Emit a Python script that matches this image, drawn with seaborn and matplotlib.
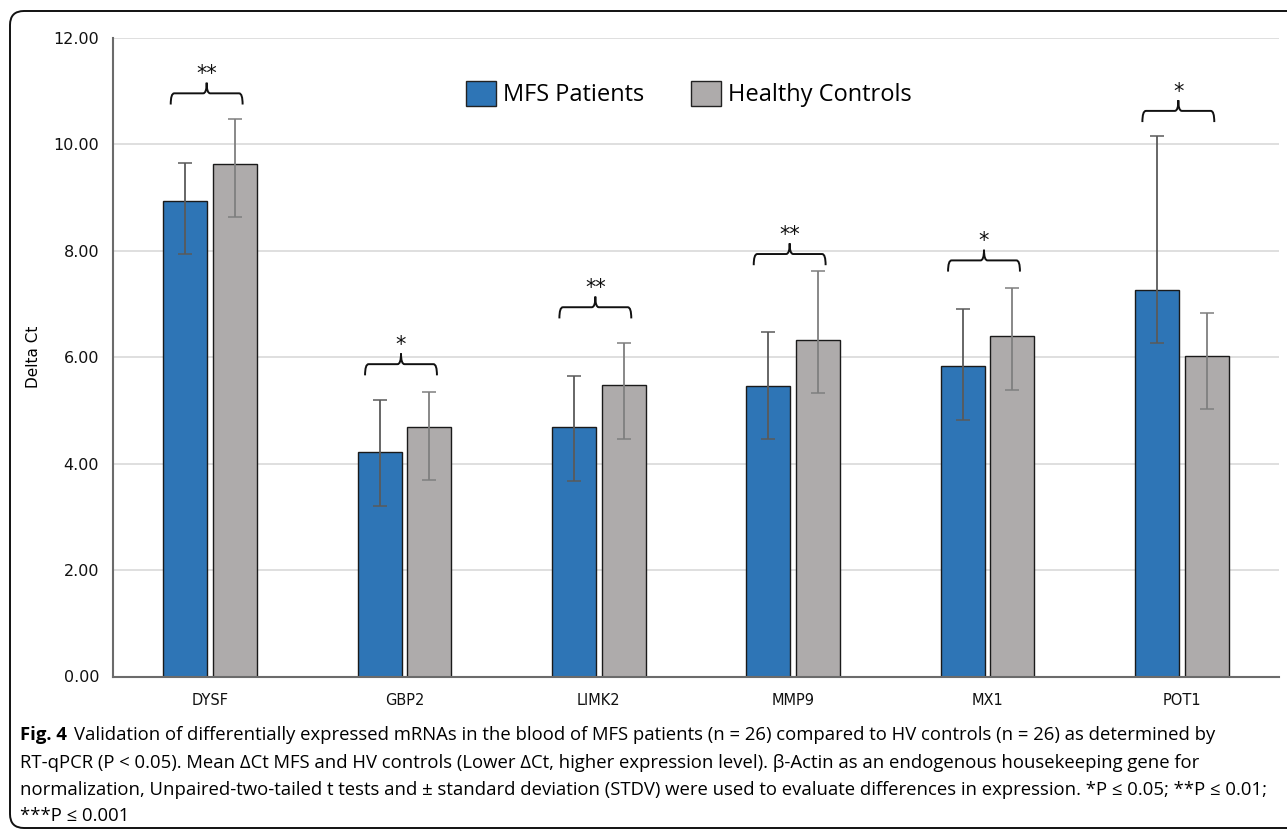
import numpy as np
import pandas as pd
import matplotlib
matplotlib.use("Agg")
import matplotlib.pyplot as plt
import seaborn as sns
from matplotlib.patches import PathPatch, Patch
from matplotlib.path import Path
from matplotlib.transforms import IdentityTransform

# values
genes = ["DYSF", "GBP2", "LIMK2", "MMP9", "MX1", "POT1"]
groups = ["MFS Patients", "Healthy Controls"]
mfs_mean = [8.93, 4.21, 4.68, 5.46, 5.84, 7.27]
hc_mean = [9.63, 4.69, 5.47, 6.33, 6.39, 6.02]
mfs_err_hi = [0.73, 0.98, 0.97, 1.02, 1.07, 2.88]
mfs_err_lo = [0.99, 1.01, 1.00, 1.00, 1.01, 1.00]
hc_err_hi = [0.85, 0.66, 0.79, 1.29, 0.92, 0.81]
hc_err_lo = [0.99, 1.00, 1.01, 1.01, 1.00, 1.00]
stars = ["**", "*", "**", "**", "*", "*"]
bracket_y = [10.96, 5.87, 6.94, 7.94, 7.82, 10.63]

colors = {"MFS Patients": "#2E75B6", "Healthy Controls": "#AEABAB"}
err_colors = ["#5A5A5A", "#7F7F7F"]

df = pd.DataFrame({
    "gene": genes * 2,
    "group": [groups[0]] * len(genes) + [groups[1]] * len(genes),
    "delta_ct": mfs_mean + hc_mean,
})

fig = plt.figure(figsize=(12.87, 8.31), dpi=100)
ax = fig.add_axes([113 / 1287, 1 - 676.5 / 831, 1166 / 1287, 638.5 / 831])
plt.rcParams["font.family"] = ["Open Sans", "DejaVu Sans"]

sns.barplot(data=df, x="gene", y="delta_ct", hue="group", order=genes,
            hue_order=groups, palette=colors, width=0.51, gap=0.115,
            saturation=1, errorbar=None, edgecolor="#1a1a1a", linewidth=1.0,
            ax=ax)

# asymmetric error bars
errs = [(mfs_err_lo, mfs_err_hi), (hc_err_lo, hc_err_hi)]
means = [mfs_mean, hc_mean]
bar_conts = list(ax.containers)
for k, cont in enumerate(bar_conts):
    xs = [b.get_x() + b.get_width() / 2 for b in cont]
    ax.errorbar(xs, means[k], yerr=[errs[k][0], errs[k][1]], fmt="none",
                ecolor=err_colors[k], elinewidth=1.3, capsize=5, capthick=1.1,
                zorder=5)

# significance braces
for i, (s, yb) in enumerate(zip(stars, bracket_y)):
    xc = i - 0.018
    x0, x1 = xc - 0.185, xc + 0.185
    dx, tip, sp = 0.018, 0.21, 0.2
    verts = [(x0, yb - tip), (x0, yb), (x0 + dx, yb),
             (xc - dx, yb), (xc, yb), (xc, yb + sp),
             (xc, yb), (xc + dx, yb),
             (x1 - dx, yb), (x1, yb), (x1, yb - tip)]
    codes = [Path.MOVETO, Path.CURVE3, Path.CURVE3,
             Path.LINETO, Path.CURVE3, Path.CURVE3,
             Path.CURVE3, Path.CURVE3,
             Path.LINETO, Path.CURVE3, Path.CURVE3]
    ax.add_patch(PathPatch(Path(verts, codes), fill=False, lw=1.4,
                           edgecolor="#111111", zorder=6))
    ax.text(xc, yb + 0.36, s, ha="center", va="center", fontsize=15,
            color="#111111", family="DejaVu Sans")

ax.set_xlim(-0.5, 5.5)
ax.set_ylim(0, 12)
ax.set_yticks(np.arange(0, 12.1, 2))
ax.set_yticklabels([f"{v:.2f}" for v in np.arange(0, 12.1, 2)])
ax.yaxis.grid(True, color="#D9D9D9", lw=1.2)
ax.set_axisbelow(True)
for side in ["top", "right"]:
    ax.spines[side].set_visible(False)
for side in ["left", "bottom"]:
    ax.spines[side].set_color("#6b6b6b")
    ax.spines[side].set_linewidth(1.5)
ax.tick_params(axis="both", length=0)
ax.tick_params(axis="y", labelsize=11.5, pad=10, labelcolor="#111111")
ax.tick_params(axis="x", labelsize=10.5, pad=12, labelcolor="#111111")
ax.set_xlabel("")
ax.set_ylabel("Delta Ct", fontsize=11, labelpad=9)

ax.get_legend().remove()
handles = [Patch(facecolor=colors[g], edgecolor="#222222", lw=1.0, label=g)
           for g in groups]
ax.legend(handles=handles, ncol=2, loc="center", bbox_to_anchor=(0.494, 0.912),
          frameon=False, fontsize=17, handlelength=1.27, handleheight=1.27,
          handletextpad=0.3, columnspacing=2.0)

# open rounded frame (top, left, bottom) around the panel, in pixels
r = 14
top, bot, left, far = 820, 3, 10, 1400
frame = Path([(far, top), (left + r, top), (left, top), (left, top - r),
              (left, bot + r), (left, bot), (left + r, bot), (far, bot)],
             [Path.MOVETO, Path.LINETO, Path.CURVE3, Path.CURVE3,
              Path.LINETO, Path.CURVE3, Path.CURVE3, Path.LINETO])
fig.patches.append(PathPatch(frame, transform=IdentityTransform(), fill=False,
                             lw=1.4, edgecolor="#111111"))

# caption
cap_lines = [
    "Validation of differentially expressed mRNAs in the blood of MFS patients (n = 26) compared to HV controls (n = 26) as determined by",
    "RT-qPCR (P < 0.05). Mean ΔCt MFS and HV controls (Lower ΔCt, higher expression level). β-Actin as an endogenous housekeeping gene for",
    "normalization, Unpaired-two-tailed t tests and ± standard deviation (STDV) were used to evaluate differences in expression. *P ≤ 0.05; **P ≤ 0.01;",
    "***P ≤ 0.001",
]
cap_y = [735, 763, 790, 816]
cap_size = 13.3
fig_lbl = fig.text(20 / 1287, 1 - cap_y[0] / 831, "Fig. 4", fontsize=cap_size,
                   fontweight="bold", va="center", ha="left")
ax.annotate(cap_lines[0], xy=(1, 0.5), xycoords=fig_lbl, xytext=(5, 0),
            textcoords="offset points", va="center", ha="left", fontsize=cap_size)
for line, y in zip(cap_lines[1:], cap_y[1:]):
    fig.text(20 / 1287, 1 - y / 831, line, fontsize=cap_size, va="center", ha="left")

fig.savefig("out.png", dpi=100)
